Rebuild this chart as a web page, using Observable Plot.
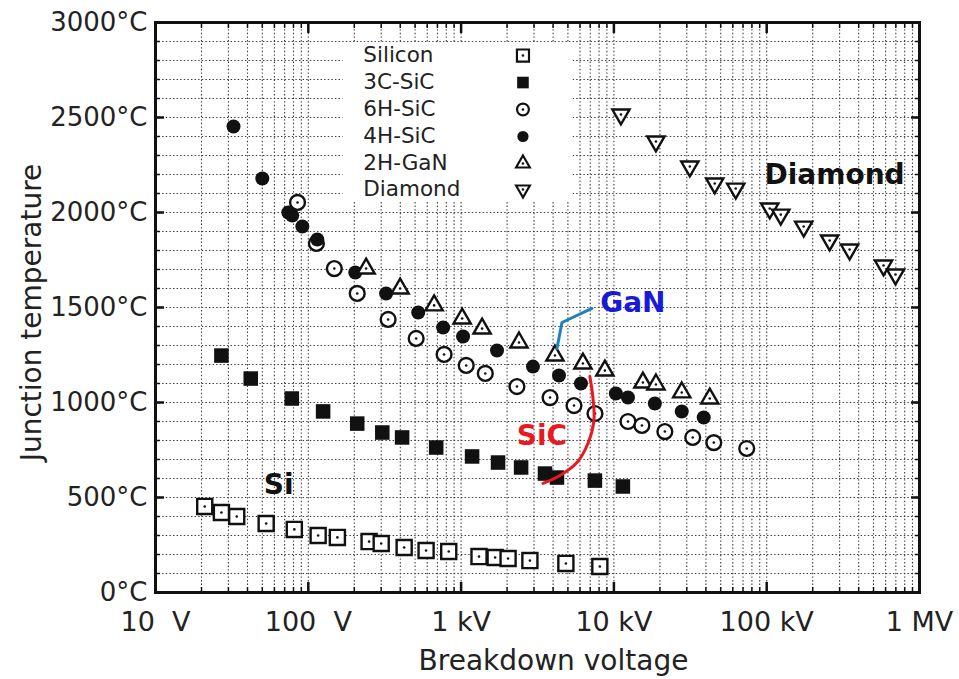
<!DOCTYPE html>
<html><head><meta charset="utf-8">
<script src="https://cdn.jsdelivr.net/npm/d3@7"></script>
<script src="https://cdn.jsdelivr.net/npm/@observablehq/plot@0.6"></script>
<style>
html,body{margin:0;padding:0;background:#fff;}
#chart{width:959px;height:679px;}
</style></head><body><div id="chart"></div>
<script>
// ---- data (breakdown voltage in V, junction temperature in °C) ----
const siliconV = [21, 27, 34, 53, 81, 116, 155, 250, 300, 424, 590, 830, 1310, 1670, 2030, 2820, 4850, 8090];
const siliconT = [453, 421, 400, 363, 332, 300, 290, 268, 258, 237, 221, 216, 189, 184, 179, 168, 153, 137];
const sic3cV = [27, 42, 78, 125, 209, 305, 411, 687, 1180, 1745, 2470, 3540, 4240, 7510, 11450];
const sic3cT = [1247, 1126, 1021, 953, 889, 842, 816, 763, 716, 684, 658, 626, 605, 589, 558];
const sic6hV = [85, 113, 148, 209, 333, 508, 774, 1080, 1440, 2320, 3820, 5480, 7520, 12360, 15250, 21550, 32800, 45060, 74000];
const sic6hT = [2053, 1837, 1705, 1574, 1437, 1337, 1253, 1195, 1153, 1084, 1026, 984, 942, 900, 879, 847, 816, 789, 758];
const sic4hV = [32.4, 50, 74, 78.5, 91.4, 114.5, 203, 323, 524, 763, 1030, 1718, 2954, 4372, 6087, 10300, 12360, 18540, 27800, 38700];
const sic4hT = [2453, 2179, 2000, 1984, 1926, 1858, 1684, 1574, 1474, 1395, 1347, 1274, 1189, 1142, 1100, 1047, 1026, 995, 953, 921];
const ganV = [239, 399, 666, 1016, 1372, 2393, 4113, 6270, 8730, 15480, 18840, 27800, 42400];
const ganT = [1705, 1600, 1511, 1442, 1389, 1316, 1247, 1205, 1168, 1105, 1095, 1053, 1021];
const diamondV = [11120, 18840, 31400, 45700, 62700, 104700, 123600, 174600, 258200, 348700, 581700, 696600];
const diamondT = [2516, 2374, 2242, 2153, 2126, 2021, 1989, 1926, 1853, 1805, 1721, 1674];

const seriesNames = ["Silicon", "3C-SiC", "6H-SiC", "4H-SiC", "2H-GaN", "Diamond"];

// axis ticks and labels
const xTicks = [10, 100, 1e3, 1e4, 1e5, 1e6];
const xTickLabels = ["10\u00a0\u00a0V", "100\u00a0\u00a0V", "1 kV", "10 kV", "100 kV", "1 MV"];
const yTicks = [0, 500, 1000, 1500, 2000, 2500, 3000];
const yTickLabels = ["0°C", "500°C", "1000°C", "1500°C", "2000°C", "2500°C", "3000°C"];

// legend placement (data units)
const legendTextV = 229;
const legendSymbolV = 2540;
const legendRowT = [2826, 2684, 2542, 2400, 2258, 2121];
const legendBoxV = [169, 5400];
const legendBoxT = [2058, 2895];

// annotations
const annText = ["Si", "SiC", "GaN", "Diamond"];
const annV = [64, 3380, 13300, 278000];
const annT = [568, 821, 1526, 2195];
const annColor = ["#111111", "#e8191f", "#1a1ad6", "#111111"];
const ganLeaderV = [4240, 4570, 7180];
const ganLeaderT = [1284, 1421, 1495];
const sicArcV = [3435, 4440, 5730, 6760, 7400, 7290, 6960];
const sicArcT = [574, 616, 684, 784, 905, 1026, 1137];

// ---- build tables ----
const allV = [siliconV, sic3cV, sic6hV, sic4hV, ganV, diamondV];
const allT = [siliconT, sic3cT, sic6hT, sic4hT, ganT, diamondT];
const rows = seriesNames.flatMap((s, i) => allV[i].map((v, j) => ({s, v, t: allT[i][j]})));

const styles = {
  "Silicon": {symbol: "square", r: 8.5, fill: "white", stroke: "#111", strokeWidth: 2.4, open: true, rotate: 0},
  "3C-SiC": {symbol: "square", r: 8.2, fill: "#111", stroke: "none", strokeWidth: 0, open: false, rotate: 0},
  "6H-SiC": {symbol: "circle", r: 7.4, fill: "white", stroke: "#111", strokeWidth: 2.4, open: true, rotate: 0},
  "4H-SiC": {symbol: "circle", r: 7, fill: "#111", stroke: "none", strokeWidth: 0, open: false, rotate: 0},
  "2H-GaN": {symbol: "triangle", r: 6.4, fill: "white", stroke: "#111", strokeWidth: 2.4, open: true, rotate: 0},
  "Diamond": {symbol: "triangle", r: 6.4, fill: "white", stroke: "#111", strokeWidth: 2.4, open: true, rotate: 180}
};

const minorX = [];
for (let k = 1; k <= 5; k++) for (let m = 1; m <= 9; m++) minorX.push(m * Math.pow(10, k));
minorX.push(1e6);
const minorY = d3.range(0, 3001, 100);

const gridStyle = {stroke: "#3a3a3a", strokeWidth: 1.1, strokeDasharray: "1.4,2.2"};
const FONT = "DejaVu Sans";

const legendRows = seriesNames.map((s, i) => ({s, t: legendRowT[i]}));

function seriesMarks(data, scale, xAcc) {
  const out = [];
  for (const s of seriesNames) {
    const st = styles[s];
    const d = data.filter(r => r.s === s);
    out.push(Plot.dot(d, {x: xAcc, y: "t", symbol: st.symbol, r: st.r * scale, fill: st.fill,
      stroke: st.stroke, strokeWidth: st.strokeWidth * (scale < 1 ? 0.9 : 1), rotate: st.rotate}));
    if (st.open) out.push(Plot.dot(d, {x: xAcc, y: "t", r: 1.3, fill: "#111", stroke: "none"}));
  }
  return out;
}

const chart = Plot.plot({
  width: 959,
  height: 679,
  marginLeft: 155,
  marginRight: 40,
  marginTop: 22,
  marginBottom: 87,
  style: {fontFamily: FONT, background: "white", color: "#222"},
  x: {type: "log", domain: [10, 1e6]},
  y: {domain: [0, 3000]},
  marks: [
    // dotted grid
    Plot.ruleX(minorX, {x: d => d, ...gridStyle}),
    Plot.ruleY(minorY, {y: d => d, ...gridStyle}),
    // legend box
    Plot.rect([0], {x1: legendBoxV[0], x2: legendBoxV[1], y1: legendBoxT[0], y2: legendBoxT[1], fill: "white"}),
    // inward ticks
    Plot.axisY({anchor: "left", ticks: minorY, tickSize: -5, fill: "none", stroke: "#111", strokeWidth: 1.5, label: null}),
    Plot.axisY({anchor: "left", ticks: yTicks, tickSize: -9, fill: "none", stroke: "#111", strokeWidth: 2.5, label: null}),
    Plot.axisY({anchor: "right", ticks: minorY, tickSize: -5, fill: "none", stroke: "#111", strokeWidth: 1.5, label: null}),
    Plot.axisY({anchor: "right", ticks: yTicks, tickSize: -9, fill: "none", stroke: "#111", strokeWidth: 2.5, label: null}),
    Plot.axisX({anchor: "bottom", ticks: minorX, tickSize: -5, fill: "none", stroke: "#111", strokeWidth: 1.5, label: null}),
    Plot.axisX({anchor: "bottom", ticks: xTicks, tickSize: -10, fill: "none", stroke: "#111", strokeWidth: 2.5, label: null}),
    Plot.axisX({anchor: "top", ticks: minorX, tickSize: -5, fill: "none", stroke: "#111", strokeWidth: 1.5, label: null}),
    Plot.axisX({anchor: "top", ticks: xTicks, tickSize: -10, fill: "none", stroke: "#111", strokeWidth: 2.5, label: null}),
    // tick labels
    Plot.axisY({anchor: "left", ticks: yTicks, tickSize: 0, tickPadding: 8, fontSize: 26,
      tickFormat: d => yTickLabels[yTicks.indexOf(d)], label: null, fill: "#222"}),
    Plot.axisX({anchor: "bottom", ticks: xTicks, tickSize: 0, tickPadding: 19, fontSize: 27,
      tickFormat: d => xTickLabels[xTicks.indexOf(d)], label: null, fill: "#222"}),
    // axis titles
    Plot.text(["Breakdown voltage"], {frameAnchor: "bottom", textAnchor: "middle", lineAnchor: "middle",
      dx: 16, dy: 69, fontSize: 28, fill: "#222"}),
    Plot.text(["Junction temperature"], {frameAnchor: "left", textAnchor: "middle", lineAnchor: "middle",
      dx: -123, dy: 5, rotate: -90, fontSize: 28, fill: "#222"}),
    // frame
    Plot.frame({stroke: "#111", strokeWidth: 3}),
    // data
    ...seriesMarks(rows, 1, "v"),
    // legend entries
    Plot.text(legendRows, {x: legendTextV, y: "t", text: "s", textAnchor: "start", fontSize: 21.5, fill: "#222"}),
    ...seriesMarks(legendRows, 0.8, () => legendSymbolV),
    // annotations
    Plot.line(sicArcV.map((v, i) => ({v, t: sicArcT[i]})), {x: "v", y: "t", stroke: "#e8191f", strokeWidth: 3, curve: "catmull-rom"}),
    Plot.line(ganLeaderV.map((v, i) => ({v, t: ganLeaderT[i]})), {x: "v", y: "t", stroke: "#1f80c0", strokeWidth: 3}),
    Plot.text(annText.map((s, i) => ({s, v: annV[i], t: annT[i], c: annColor[i]})),
      {x: "v", y: "t", text: "s", fill: d => d.c, fontSize: 28, fontWeight: "bold"})
  ]
});
document.getElementById("chart").appendChild(chart);
</script></body></html>
